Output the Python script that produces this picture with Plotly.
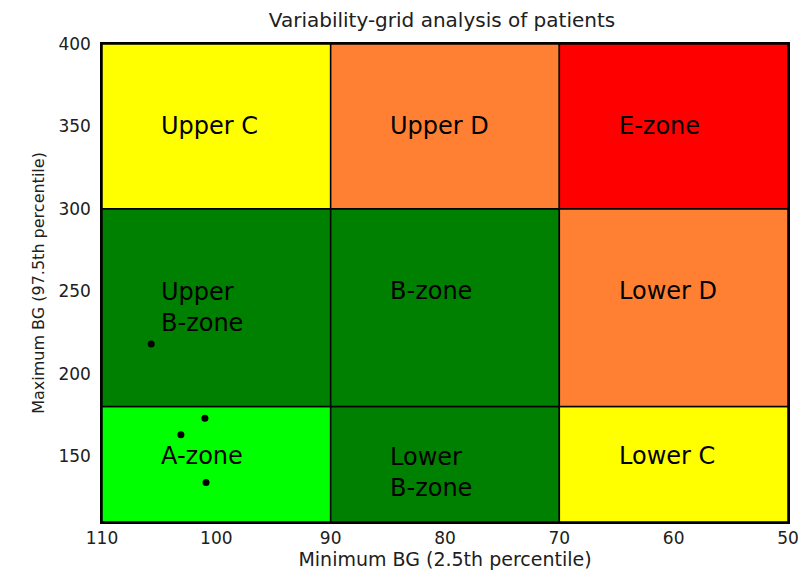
import plotly.graph_objects as go

# Grid boundaries (mg/dL)
min_bg_edges = [110, 90, 70, 50]      # x: minimum BG, plotted high -> low
max_bg_edges = [110, 180, 300, 400]   # y: maximum BG

# Zone colours, rows bottom -> top, columns left -> right
zone_colors = [
    ["#00FF00", "#008000", "#FFFF00"],
    ["#008000", "#008000", "#FF8033"],
    ["#FFFF00", "#FF8033", "#FF0000"],
]

# Zone labels (row, column) with their anchor values
zone_labels = [
    "A-zone", "Lower<br>B-zone", "Lower C",
    "Upper<br>B-zone", "B-zone", "Lower D",
    "Upper C", "Upper D", "E-zone",
]
label_x = [105, 85, 65, 105, 85, 65, 105, 85, 65]
label_y = [150, 140, 150, 240, 250, 250, 350, 350, 350]

# Patients: (min BG, max BG)
patient_min_bg = [105.7, 103.1, 101.0, 100.9]
patient_max_bg = [218, 163, 173, 134]

fig = go.Figure()

shapes = []
for r in range(3):
    for c in range(3):
        shapes.append(dict(
            type="rect", xref="x", yref="y", layer="below",
            x0=min_bg_edges[c], x1=min_bg_edges[c + 1],
            y0=max_bg_edges[r], y1=max_bg_edges[r + 1],
            fillcolor=zone_colors[r][c],
            line=dict(color="black", width=1.5),
        ))

annotations = []
for txt, lx, ly in zip(zone_labels, label_x, label_y):
    annotations.append(dict(
        x=lx, y=ly, xref="x", yref="y", text=txt, showarrow=False,
        xanchor="left", yanchor="middle", align="left",
        font=dict(family="DejaVu Sans", size=24, color="black"),
    ))

fig.add_trace(go.Scatter(
    x=patient_min_bg, y=patient_max_bg, mode="markers",
    marker=dict(color="black", size=7),
    showlegend=False, hoverinfo="skip",
))

fig.update_layout(
    width=803, height=573,
    margin=dict(l=102, r=15, t=44, b=51),
    paper_bgcolor="white", plot_bgcolor="white",
    shapes=shapes, annotations=annotations,
    title=dict(
        text="Variability-grid analysis of patients",
        x=442 / 803, xanchor="center", y=1 - 20 / 573, yanchor="middle",
        yref="container",
        font=dict(family="DejaVu Sans", size=20, color="#202020"),
    ),
    font=dict(family="DejaVu Sans", color="#202020"),
)

fig.update_xaxes(
    range=[110, 50], tickvals=[110, 100, 90, 80, 70, 60, 50],
    showgrid=False, zeroline=False, ticks="", automargin=False,
    showline=True, linecolor="black", linewidth=1.5, mirror=True,
    tickfont=dict(size=17), ticklabelstandoff=0,
    title=dict(text="Minimum BG (2.5th percentile)", font=dict(size=19), standoff=4),
)
fig.update_yaxes(
    range=[110, 400], tickvals=[150, 200, 250, 300, 350, 400],
    showgrid=False, zeroline=False, ticks="", automargin=False,
    showline=True, linecolor="black", linewidth=1.5, mirror=True,
    tickfont=dict(size=17), ticklabelstandoff=6,
    title=dict(text="Maximum BG (97.5th percentile)", font=dict(size=16), standoff=10),
)

fig.write_html("out.html")
